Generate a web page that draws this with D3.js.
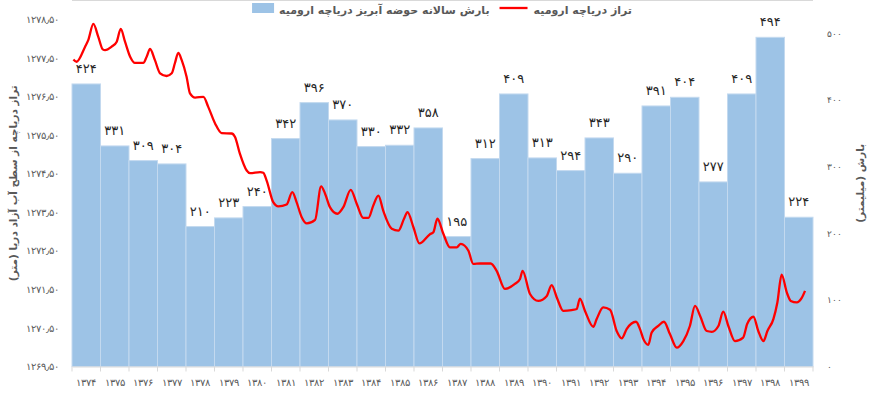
<!DOCTYPE html>
<html>
<head>
<meta charset="utf-8">
<script src="https://cdn.jsdelivr.net/npm/d3@7"></script>
<style>
  body { margin: 0; background: #fff; }
  svg { display: block; font-family: "DejaVu Sans", sans-serif; }
</style>
</head>
<body>
<svg id="chart" width="873" height="397"></svg>
<script>
// annual rainfall of the Urmia basin (mm)
const years = [1374, 1375, 1376, 1377, 1378, 1379, 1380, 1381, 1382, 1383, 1384, 1385, 1386,
  1387, 1388, 1389, 1390, 1391, 1392, 1393, 1394, 1395, 1396, 1397, 1398, 1399];
const rainfall = [424, 331, 309, 304, 210, 223, 240, 342, 396, 370, 330, 332, 358,
  195, 312, 409, 313, 294, 343, 290, 391, 404, 277, 409, 494, 224];

// lake level (m above sea level)
const levelDates = [
  1374.05, 1374.16, 1374.46, 1374.57, 1374.75, 1374.92, 1375.08, 1375.16, 1375.39, 1375.57,
  1375.71, 1375.86, 1376.04, 1376.21, 1376.50, 1376.62, 1376.74, 1376.91, 1377.09, 1377.32,
  1377.50, 1377.61, 1377.73, 1377.85, 1378.02, 1378.14, 1378.32, 1378.61, 1378.78, 1379.02,
  1379.25, 1379.60, 1379.72, 1379.89, 1380.13, 1380.25, 1380.60, 1380.71, 1380.83, 1381.06,
  1381.24, 1381.53, 1381.73, 1381.88, 1382.06, 1382.24, 1382.53, 1382.74, 1382.88, 1383.05,
  1383.31, 1383.52, 1383.78, 1383.99, 1384.22, 1384.40, 1384.57, 1384.75, 1384.92, 1385.22,
  1385.45, 1385.65, 1385.77, 1385.98, 1386.19, 1386.56, 1386.68, 1386.82, 1387.03, 1387.26,
  1387.50, 1387.64, 1387.91, 1388.08, 1388.32, 1388.69, 1388.90, 1389.19, 1389.54, 1389.72,
  1389.81, 1390.07, 1390.36, 1390.66, 1390.83, 1391.01, 1391.24, 1391.53, 1391.71, 1391.82,
  1392.00, 1392.29, 1392.41, 1392.64, 1392.88, 1393.11, 1393.29, 1393.46, 1393.79, 1393.93,
  1394.05, 1394.22, 1394.34, 1394.57, 1394.77, 1394.98, 1395.22, 1395.45, 1395.68, 1395.86,
  1396.04, 1396.27, 1396.45, 1396.68, 1396.85, 1397.03, 1397.26, 1397.55, 1397.69, 1397.91,
  1398.08, 1398.26, 1398.40, 1398.61, 1398.75, 1398.90, 1399.08, 1399.22, 1399.43, 1399.60,
  1399.72];
const levelValues = [
  1277.46, 1277.40, 1277.79, 1277.96, 1278.38, 1278.05, 1277.72, 1277.70, 1277.79, 1277.92,
  1278.25, 1277.92, 1277.53, 1277.37, 1277.37, 1277.53, 1277.73, 1277.44, 1277.10, 1277.03,
  1277.10, 1277.36, 1277.63, 1277.44, 1277.01, 1276.58, 1276.47, 1276.49, 1276.23, 1275.80,
  1275.55, 1275.54, 1275.45, 1275.02, 1274.58, 1274.51, 1274.54, 1274.52, 1274.32, 1273.76,
  1273.65, 1273.70, 1274.02, 1273.76, 1273.37, 1273.21, 1273.30, 1274.17, 1273.98, 1273.63,
  1273.46, 1273.63, 1274.08, 1273.72, 1273.35, 1273.35, 1273.67, 1273.93, 1273.54, 1273.07,
  1273.02, 1273.33, 1273.50, 1273.11, 1272.69, 1272.93, 1272.98, 1273.33, 1272.94, 1272.59,
  1272.59, 1272.68, 1272.50, 1272.16, 1272.17, 1272.17, 1271.98, 1271.51, 1271.64, 1271.77,
  1271.98, 1271.38, 1271.20, 1271.33, 1271.61, 1271.29, 1270.94, 1270.96, 1270.99, 1271.26,
  1270.94, 1270.53, 1270.73, 1271.03, 1270.97, 1270.42, 1270.23, 1270.47, 1270.66, 1270.47,
  1270.21, 1270.06, 1270.38, 1270.55, 1270.66, 1270.34, 1269.99, 1270.16, 1270.55, 1271.07,
  1270.81, 1270.42, 1270.40, 1270.55, 1270.92, 1270.55, 1270.16, 1270.25, 1270.60, 1270.79,
  1270.42, 1270.16, 1270.42, 1270.73, 1271.16, 1271.88, 1271.42, 1271.20, 1271.16, 1271.27,
  1271.46];

const levelTicks = [1269.5, 1270.5, 1271.5, 1272.5, 1273.5, 1274.5, 1275.5, 1276.5, 1277.5, 1278.5];
const rainTicks = [0, 100, 200, 300, 400, 500];

const legendRain = 'بارش سالانه حوضه آبریز دریاچه ارومیه';
const legendLevel = 'تراز دریاچه ارومیه';
const titleLeft = 'تراز دریاچه از سطح آب آزاد دریا (متر)';
const titleRight = 'بارش (میلیمتر)';

const fa = s => String(s).replace(/\d/g, d => '۰۱۲۳۴۵۶۷۸۹'[d]);

const svg = d3.select('#chart');
const plot = {left: 72, right: 813, top: 0, bottom: 366.5};
const axisGray = '#d9d9d9';
const textGray = '#595959';

// scales
const x = d3.scaleBand()
    .domain(years)
    .range([plot.left, plot.right])
    .padding(0);
const t = d3.scaleLinear()
    .domain([years[0], years[years.length - 1] + 1])
    .range([plot.left, plot.right]);
const yLevel = d3.scaleLinear()
    .domain([1269.5, 1279])
    .range([plot.bottom, plot.top]);
const yRain = d3.scaleLinear()
    .domain([0, 550])
    .range([plot.bottom, plot.top]);

// top frame line
svg.append('line')
    .attr('x1', plot.left).attr('x2', plot.right)
    .attr('y1', 0.5).attr('y2', 0.5)
    .attr('stroke', axisGray);

// bars
svg.append('g')
  .selectAll('rect')
  .data(years)
  .join('rect')
    .attr('x', d => x(d))
    .attr('y', (d, i) => yRain(rainfall[i]))
    .attr('width', x.bandwidth())
    .attr('height', (d, i) => plot.bottom - yRain(rainfall[i]))
    .attr('fill', '#9dc3e6')
    .attr('stroke', '#c3d9ef')
    .attr('stroke-width', 1);

// x axis
const xAxis = svg.append('g')
    .attr('transform', 'translate(0,' + plot.bottom + ')')
    .call(d3.axisBottom(x).tickSize(0).tickFormat(d => fa(d)));
xAxis.select('.domain').attr('stroke', axisGray);
xAxis.selectAll('text')
    .attr('dy', '1.65em')
    .attr('fill', textGray)
    .style('font-size', '10px');
svg.append('g')
  .selectAll('line')
  .data(years.concat([years[years.length - 1] + 1]))
  .join('line')
    .attr('x1', d => t(d)).attr('x2', d => t(d))
    .attr('y1', plot.bottom).attr('y2', plot.bottom + 5)
    .attr('stroke', axisGray);

// left axis (lake level)
const leftAxis = svg.append('g')
    .attr('transform', 'translate(' + plot.left + ',0)')
    .call(d3.axisLeft(yLevel).tickValues(levelTicks).tickSize(0).tickPadding(13)
      .tickFormat(d => fa(d.toFixed(2).replace('.', '٫'))));
leftAxis.select('.domain').remove();
leftAxis.selectAll('text')
    .attr('fill', textGray)
    .style('font-size', '10px');

// right axis (rainfall)
const rightAxis = svg.append('g')
    .attr('transform', 'translate(' + plot.right + ',0)')
    .call(d3.axisRight(yRain).tickValues(rainTicks).tickSize(0).tickPadding(14)
      .tickFormat(d => fa(d)));
rightAxis.select('.domain').remove();
rightAxis.selectAll('text')
    .attr('fill', textGray)
    .style('font-size', '9px');

// lake level line
const line = d3.line()
    .x(d => t(d[0]))
    .y(d => yLevel(d[1]))
    .curve(d3.curveMonotoneX);
svg.append('path')
    .datum(levelDates.map((d, i) => [d, levelValues[i]]))
    .attr('d', line)
    .attr('fill', 'none')
    .attr('stroke', '#ff0000')
    .attr('stroke-width', 2.3)
    .attr('stroke-linejoin', 'round');

// bar value labels
svg.append('g')
  .selectAll('text')
  .data(years)
  .join('text')
    .attr('x', d => x(d) + x.bandwidth() / 2)
    .attr('y', (d, i) => yRain(rainfall[i]) - 11)
    .attr('text-anchor', 'middle')
    .attr('fill', '#262626')
    .style('font-size', '13px')
    .text((d, i) => fa(rainfall[i]));

// axis titles
svg.append('text')
    .attr('transform', 'translate(17,' + (plot.bottom / 2) + ') rotate(-90)')
    .attr('text-anchor', 'middle')
    .attr('direction', 'rtl')
    .attr('fill', textGray)
    .style('font-size', '10.5px')
    .style('font-weight', 'bold')
    .text(titleLeft);
svg.append('text')
    .attr('transform', 'translate(864,' + (plot.bottom / 2) + ') rotate(-90)')
    .attr('text-anchor', 'middle')
    .attr('direction', 'rtl')
    .attr('fill', textGray)
    .style('font-size', '10.5px')
    .style('font-weight', 'bold')
    .text(titleRight);

// legend, laid out right to left: level text, red line, rain text, blue square
const legend = svg.append('g');
const levelText = legend.append('text')
    .attr('x', 632).attr('y', 14)
    .attr('direction', 'rtl')
    .attr('text-anchor', 'start')
    .attr('fill', textGray)
    .style('font-size', '11px')
    .style('font-weight', 'bold')
    .text(legendLevel);
const levelLeft = levelText.node().getBBox().x;
legend.append('line')
    .attr('x1', levelLeft - 34).attr('x2', levelLeft - 6)
    .attr('y1', 8).attr('y2', 8)
    .attr('stroke', '#ff0000')
    .attr('stroke-width', 2.3);
const rainText = legend.append('text')
    .attr('x', levelLeft - 44).attr('y', 14)
    .attr('direction', 'rtl')
    .attr('text-anchor', 'start')
    .attr('fill', textGray)
    .style('font-size', '11px')
    .style('font-weight', 'bold')
    .text(legendRain);
const rainLeft = rainText.node().getBBox().x;
legend.append('rect')
    .attr('x', rainLeft - 27).attr('y', 3)
    .attr('width', 22).attr('height', 10)
    .attr('fill', '#9dc3e6');
</script>
</body>
</html>
